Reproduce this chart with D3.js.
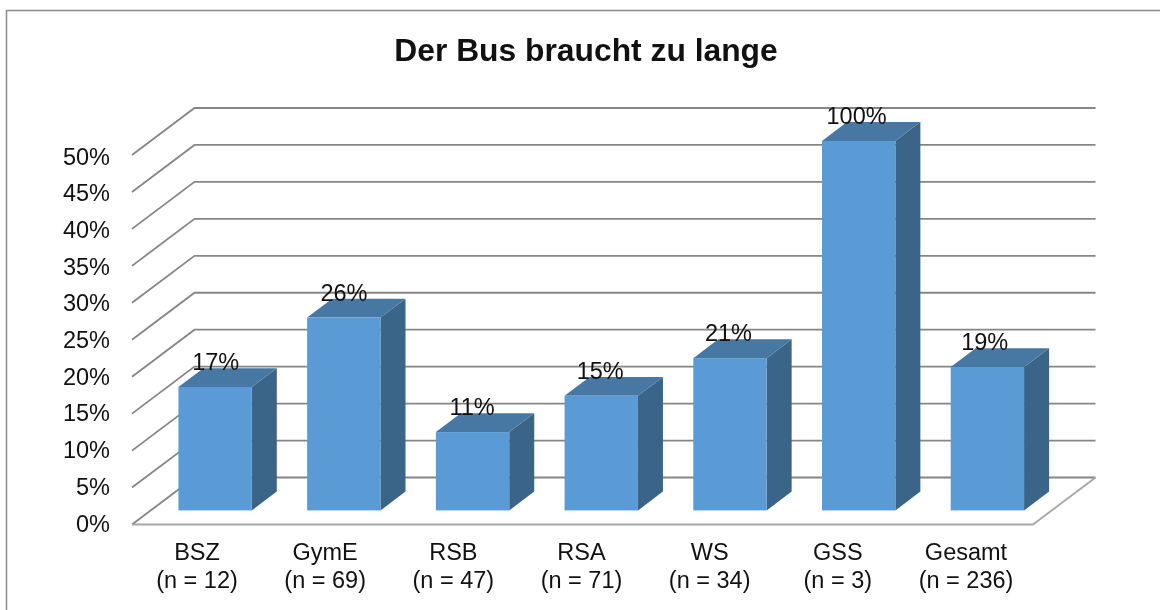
<!DOCTYPE html>
<html>
<head>
<meta charset="utf-8">
<script src="https://cdn.jsdelivr.net/npm/d3@7"></script>
<style>
    html, body { margin: 0; padding: 0; background: #fff; overflow: hidden; }
    svg { display: block; font-family: "Liberation Sans", Arial, sans-serif; filter: blur(0.4px); }
</style>
</head>
<body>
<div id="chart"></div>
<script>
// values, in percent
const categories = ["BSZ", "GymE", "RSB", "RSA", "WS", "GSS", "Gesamt"];
const sampleSizes = ["(n = 12)", "(n = 69)", "(n = 47)", "(n = 71)", "(n = 34)", "(n = 3)", "(n = 236)"];
const values = [16.7, 26.1, 10.6, 15.5, 20.6, 100, 19.4];
const valueLabels = ["17%", "26%", "11%", "15%", "21%", "100%", "19%"];
const yTicks = [0, 5, 10, 15, 20, 25, 30, 35, 40, 45, 50];

const svg = d3.select("#chart")
    .append("svg")
    .attr("width", 1160)
    .attr("height", 610);

// chart frame, only left and top edges are in view
svg.append("path")
    .attr("d", d3.line()([[6.5, 610], [6.5, 10.5], [1160, 10.5]]))
    .attr("fill", "none")
    .attr("stroke", "#8c8c8c")
    .attr("stroke-width", 1.5);

const xScale = d3.scaleBand()
    .domain(categories)
    .range([132, 1033])
    .paddingInner(0.43)
    .paddingOuter(0.215);

// text labels run a little tighter than the bars
const labelScale = d3.scalePoint()
    .domain(categories)
    .range([197, 966]);

// the axis stops at 50%, the GSS bar gets cut off there
const yScale = d3.scaleLinear()
    .domain([0, 50])
    .range([524.5, 155])
    .clamp(true);

// same for the tick labels
const yLabelScale = d3.scaleLinear()
    .domain([0, 50])
    .range([523.5, 156.5]);

// depth of the 3d box, and how far bars sit inside it
const depthX = 62.5, depthY = -47;
const barOffset = 0.3, barDepth = 0.4;

// Gridlines: slanted on the side wall, then flat along the back wall
const grid = svg.append("g")
    .attr("fill", "none")
    .attr("stroke", "#868686")
    .attr("stroke-width", 1.8);

const gridPath = d3.line();
grid.selectAll("path")
    .data(yTicks)
    .enter()
    .append("path")
    .attr("d", (d) => gridPath([
        [xScale.range()[0], yScale(d)],
        [xScale.range()[0] + depthX, yScale(d) + depthY],
        [xScale.range()[1] + depthX, yScale(d) + depthY]
    ]));

// floor
grid.append("path")
    .attr("d", gridPath([
        [xScale.range()[1] + depthX, yScale(0) + depthY],
        [xScale.range()[1], yScale(0)],
        [xScale.range()[0], yScale(0)]
    ]))
    .attr("stroke", "#a6a6a6");

// y axis, no line, only labels
const yAxis = d3.axisLeft(yLabelScale)
    .tickValues(yTicks)
    .tickFormat((d) => d + "%")
    .tickSize(0)
    .tickPadding(22);
const yAxisG = svg.append("g")
    .attr("transform", "translate(132, 0)")
    .call(yAxis);
yAxisG.select(".domain").remove();
yAxisG.selectAll("text")
    .attr("font-size", 23.5)
    .attr("font-family", "Liberation Sans")
    .attr("fill", "#111");

// Bars: side, top, then front
const bars = svg.selectAll(".bar")
    .data(categories)
    .enter()
    .append("g")
    .attr("class", "bar")
    .attr("transform", `translate(${depthX * barOffset}, ${depthY * barOffset})`);

const dx = depthX * barDepth, dy = depthY * barDepth;

bars.append("path")
    .attr("fill", "#3a6488")
    .attr("d", (d, i) => {
        const x1 = xScale(d) + xScale.bandwidth();
        const y1 = yScale(values[i]);
        return d3.line()([[x1, y1], [x1 + dx, y1 + dy], [x1 + dx, yScale(0) + dy], [x1, yScale(0)]]);
    });

bars.append("path")
    .attr("fill", "#4777a3")
    .attr("d", (d, i) => {
        const x0 = xScale(d), x1 = x0 + xScale.bandwidth();
        const y1 = yScale(values[i]);
        return d3.line()([[x0, y1], [x0 + dx, y1 + dy], [x1 + dx, y1 + dy], [x1, y1]]);
    });

bars.append("rect")
    .attr("fill", "#5b9bd5")
    .attr("x", (d) => xScale(d))
    .attr("y", (d, i) => yScale(values[i]))
    .attr("width", xScale.bandwidth())
    .attr("height", (d, i) => yScale(0) - yScale(values[i]));

// value labels
bars.append("text")
    .attr("x", (d) => labelScale(d))
    .attr("y", (d, i) => yScale(values[i]) - 17)
    .attr("text-anchor", "middle")
    .attr("font-size", 23.5)
    .attr("fill", "#111")
    .text((d, i) => valueLabels[i]);

// category labels, two rows
const labels = svg.selectAll(".cat")
    .data(categories)
    .enter()
    .append("text")
    .attr("class", "cat")
    .attr("text-anchor", "middle")
    .attr("font-size", 23.5)
    .attr("fill", "#111");

labels.append("tspan")
    .attr("x", (d) => labelScale(d))
    .attr("y", 560)
    .text((d) => d);

labels.append("tspan")
    .attr("x", (d) => labelScale(d))
    .attr("y", 588)
    .text((d, i) => sampleSizes[i]);

svg.append("text")
    .attr("x", 586)
    .attr("y", 61)
    .attr("text-anchor", "middle")
    .attr("font-size", 31.8)
    .attr("font-weight", "bold")
    .attr("fill", "#111")
    .text("Der Bus braucht zu lange");
</script>
</body>
</html>
